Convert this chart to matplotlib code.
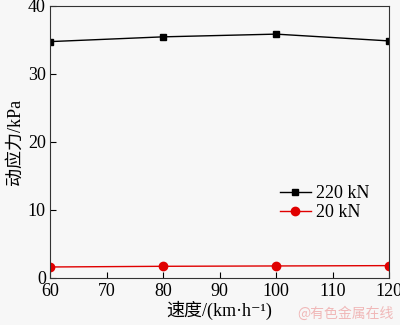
import matplotlib.pyplot as plt

speed = [60, 80, 100, 120]
stress_220 = [34.7, 35.4, 35.8, 34.8]
stress_20 = [1.6, 1.7, 1.75, 1.8]
xticks = [60, 70, 80, 90, 100, 110, 120]
yticks = [0, 10, 20, 30, 40]

plt.rcParams['font.family'] = ['Liberation Serif', 'DejaVu Serif', 'Noto Sans CJK SC']
plt.rcParams['xtick.direction'] = 'in'
plt.rcParams['ytick.direction'] = 'in'

fig = plt.figure(figsize=(4.0, 3.25), dpi=100, facecolor='#f7f7f7')
ax = fig.add_axes([0.125, 0.145, 0.848, 0.838])
ax.set_facecolor('#f7f7f7')

ax.plot(speed, stress_220, color='black', marker='s', markersize=5, linewidth=1, label='220 kN')
ax.plot(speed, stress_20, color='#e00000', marker='o', markersize=6, linewidth=1, label='20 kN')

ax.set_xlim(60, 120)
ax.set_ylim(0, 40)
ax.set_xticks(xticks)
ax.set_yticks(yticks)
ax.tick_params(labelsize=13, length=4, width=0.8, pad=3)
ax.tick_params(axis='x', pad=4)
for s in ax.spines.values():
    s.set_linewidth(0.8)
    s.set_color('#333333')

ax.set_xlabel('速度/(km·h⁻¹)', fontsize=13, labelpad=0)
ax.set_ylabel('动应力/kPa', fontsize=13, labelpad=3)

ax.legend(loc='center right', bbox_to_anchor=(0.99, 0.275), frameon=False, fontsize=13,
          handlelength=1.7, handletextpad=0.3, labelspacing=0.1)

fig.text(0.985, 0.012, '@有色金属在线', color='#f0b8b8', fontsize=10, ha='right', va='bottom',
         family=['Noto Sans CJK SC'])

fig.savefig('out.png', dpi=100, facecolor=fig.get_facecolor())
